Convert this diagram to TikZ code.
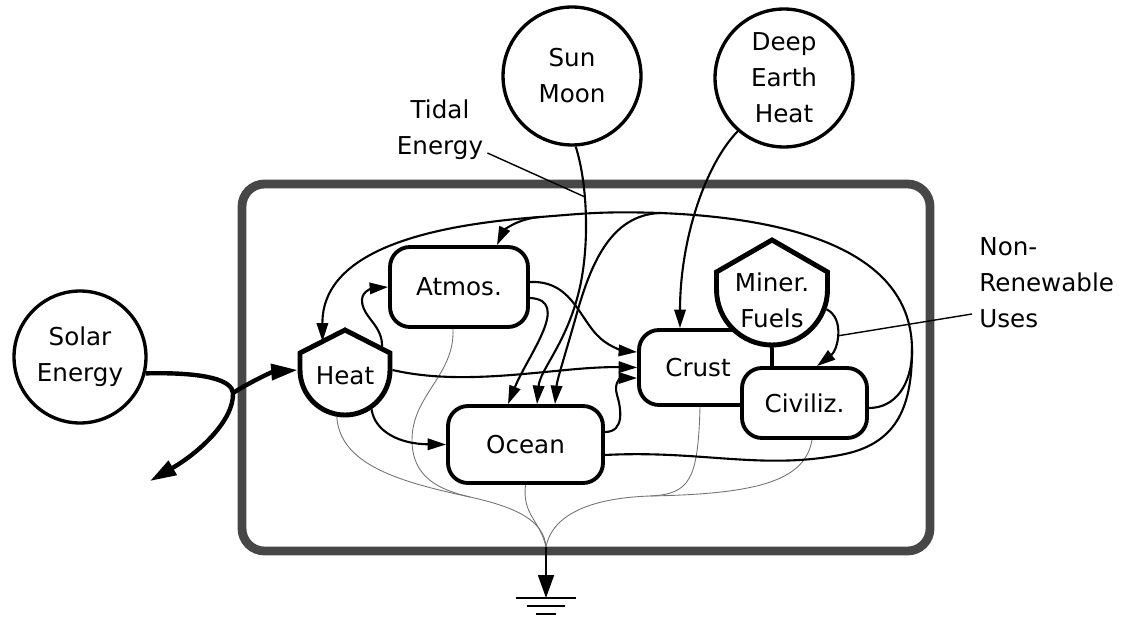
\documentclass[tikz,border=0pt]{standalone}
\usepackage{fontspec}
\setmainfont{DejaVu Sans}
\usetikzlibrary{arrows.meta}
\usetikzlibrary{calc}

\begin{document}
\begin{tikzpicture}[x=0.02cm,y=-0.02cm,
  font=\fontsize{14}{20.5}\selectfont,
  >={Triangle[length=10.5pt,width=6.5pt]},
  src/.style={circle,draw,line width=1.9pt,fill=white,align=center,inner sep=0pt},
  box/.style={rectangle,draw,line width=2.2pt,rounded corners=0.4cm,fill=white,inner sep=0pt},
  shield/.style={draw,line width=2.8pt,fill=white},
  anchorpt/.style={circle,draw=none,inner sep=0pt,outer sep=1.4pt},
  flow/.style={line width=1.2pt},
  sunflow/.style={line width=2.5pt},
  sinkflow/.style={line width=0.5pt,black!55},
  callout/.style={line width=0.8pt},
  tag/.style={inner sep=0pt,align=center}]

\useasboundingbox (0,0) rectangle (1124,618);
\draw[black!72,line width=5pt,rounded corners=0.45cm] (242,184) rectangle (930,551);

\node[src,minimum size=2.64cm] (solar) at (80,357) {Solar\\Energy};
\node[src,minimum size=2.76cm] (sun) at (572,76) {Sun\\Moon};
\node[src,minimum size=2.76cm] (deep) at (784,78) {Deep\\Earth\\Heat};

\node[box,minimum width=2.76cm,minimum height=1.6cm] (atmos) at (459,287) {Atmos.};
\node[box,minimum width=3.1cm,minimum height=1.54cm] (ocean) at (525.5,444.5) {Ocean};
\node[box,minimum width=2.66cm,minimum height=1.5cm] (crust) at (705.5,367.5) {Crust\hspace*{0.3cm}};

\draw[shield] (716.5,289.5) -- (716.5,272) coordinate (fuelsl) -- (772,240) coordinate (fuelstop)
  -- (827.5,272) coordinate (fuelsr) -- (827.5,289.5) arc[start angle=0,end angle=180,radius=55.5] -- cycle;
\node[anchorpt,minimum size=2.22cm] (fuels) at (772,289.5) {};
\node[tag] (fuelstxt) at (772,300) {Miner.\\Fuels};

\node[box,minimum width=2.5cm,minimum height=1.4cm] (civ) at (804.5,403) {Civiliz.};

\draw[shield] (300,370) -- (300,353) coordinate (heatl) -- (345,330) coordinate (heattop)
  -- (390,353) coordinate (heatr) -- (390,370) arc[start angle=0,end angle=180,radius=45] -- cycle;
\node[anchorpt,minimum size=1.8cm] (heat) at (345,370) {};
\node[tag] (heattxt) at (345,376) {Heat};

\node[tag] (tidal) at (440,130) {Tidal\\Energy};
\node[tag,anchor=west,align=left] (nonren) at (979,283) {Non-\\Renewable\\Uses};

\coordinate (split) at (233,393);
\coordinate (reflect) at (150,481);
\coordinate (loopr) at (912,350);
\coordinate (loopt) at (660,213);
\coordinate (loopb) at (540,217);
\coordinate (mergel) at (470,497);
\coordinate (mergr) at (650,496);
\coordinate (sink) at (546,547);
\coordinate (gnd) at (546,598);
\coordinate (tidalpt) at (585,197);
\coordinate (nonrenpt) at (837,336);

\draw[sinkflow] (heat.-100) .. controls (340,465) and (400,482) .. (mergel)
  .. controls (515,507) and (544,520) .. (sink);
\draw[sinkflow] ([xshift=-0.12cm]atmos.south) .. controls (455,375) and (412,395) .. (412,440)
  .. controls (412,478) and (440,490) .. (mergel);
\draw[sinkflow] (ocean.south) .. controls (522,515) and (540,520) .. (sink);
\draw[sinkflow] ([xshift=-0.11cm]crust.south) .. controls (698,480) and (690,494) .. (mergr)
  .. controls (590,498) and (552,515) .. (sink);
\draw[sinkflow] ([xshift=0.15cm]civ.south) .. controls (805,480) and (760,494) .. (mergr);
\draw[line width=1.2pt,-{Triangle[length=13pt,width=9pt]}] (sink) -- (gnd);
\draw[line width=1.2pt] (516,598) -- (576,598);
\draw[line width=1.2pt] (527,606) -- (565,606);
\draw[line width=1.2pt] (536,614) -- (556,614);

\draw[sunflow,-{Triangle[length=15pt,width=9pt]}] (solar.-14) .. controls (205,372) and (232,380) .. (split)
  .. controls (234,420) and (200,452) .. (reflect);
\draw[sunflow,-{Triangle[length=15pt,width=9pt]}] (split) .. controls (250,382) and (272,372) .. (heat.west);

\draw[flow,->] ($(heattop)!0.82!(heatr)$) .. controls (384,325) and (362,318) .. (362,300)
  .. controls (362,290) and (375,288) .. (atmos.west);
\draw[flow,->] (heat.east) .. controls (470,388) and (560,366) .. (crust.west);
\draw[flow,->] (heat.-56) .. controls (375,432) and (400,444) .. (ocean.west);
\draw[flow,->] ([yshift=0.1cm]atmos.east) .. controls (575,280) and (580,325) .. (605,342)
  .. controls (615,349) and (625,351) .. ([yshift=0.31cm]crust.west);
\draw[flow,->] ([yshift=-0.22cm]atmos.east) .. controls (572,300) and (528,355) .. ([xshift=-0.35cm]ocean.north);
\draw[flow,->] (sun.-87) .. controls (588,185) and (590,250) .. (578,295)
  .. controls (565,345) and (540,370) .. ([xshift=0.23cm]ocean.north);
\draw[flow,->] ([yshift=0.25cm]ocean.east) .. controls (625,432) and (621,408) .. (617,395)
  .. controls (613,382) and (622,378) .. ([yshift=-0.21cm]crust.west);
\draw[flow,->] (deep.-131) .. controls (705,165) and (680,240) .. ([xshift=-0.51cm]crust.north);
\draw[flow,->] (fuels.-20) .. controls (845,318) and (838,350) .. ([xshift=0.25cm]civ.north);

\draw[flow,->] ([yshift=-0.1cm]civ.east) .. controls (895,408) and (912,385) .. (loopr)
  .. controls (912,250) and (790,218) .. (loopt) .. controls (600,211) and (580,214) .. (loopb)
  .. controls (430,225) and (322,250) .. ($(heatl)!0.5!(heattop)$);
\draw[flow] ([yshift=-0.21cm]ocean.east) .. controls (700,450) and (760,470) .. (840,455)
  .. controls (895,445) and (912,410) .. (loopr);
\draw[flow,->] (loopb) .. controls (515,219) and (503,232) .. ([xshift=0.76cm]atmos.north);
\draw[flow,->] (loopt) .. controls (610,215) and (590,265) .. (575,320)
  .. controls (565,355) and (557,380) .. ([xshift=0.59cm]ocean.north);

\draw[callout] ([xshift=0.08cm,yshift=-0.46cm]tidal.east) -- (tidalpt);
\draw[callout] ([xshift=-0.14cm,yshift=-0.62cm]nonren.west) -- (nonrenpt);

\end{tikzpicture}
\end{document}
